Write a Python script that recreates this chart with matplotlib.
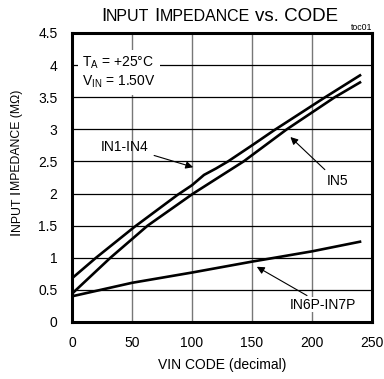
import matplotlib
matplotlib.use("Agg")
from matplotlib import pyplot as plt
from matplotlib.transforms import offset_copy

plt.rcParams['font.family'] = ['Liberation Sans', 'DejaVu Sans']
plt.rcParams['mathtext.fontset'] = 'custom'
plt.rcParams['mathtext.rm'] = 'Liberation Sans'

# VIN code vs input impedance (MOhm)
code_in1 = [0, 20, 52, 88, 100, 110, 120, 130, 150, 168, 211, 240]
z_in1 = [0.68, 1.0, 1.48, 1.98, 2.13, 2.29, 2.39, 2.5, 2.75, 2.98, 3.5, 3.84]

code_in5 = [0, 32, 63, 101, 143, 179, 219, 240]
z_in5 = [0.44, 1.0, 1.5, 2.0, 2.5, 3.0, 3.5, 3.73]

code_in6 = [0, 50, 100, 150, 200, 240]
z_in6 = [0.40, 0.61, 0.77, 0.94, 1.10, 1.25]

x_ticks = [0, 50, 100, 150, 200, 250]
y_ticks = [0, 0.5, 1, 1.5, 2, 2.5, 3, 3.5, 4, 4.5]
y_tick_labels = ['0', '0.5', '1', '1.5', '2', '2.5', '3', '3.5', '4', '4.5']


def small_caps(fig, x, y, pieces, rotation=0):
    # place text pieces one after another, pieces = (text, size, gap_after)
    renderer = fig.canvas.get_renderer()
    pos = 0.0
    for s, size, gap in pieces:
        if rotation == 0:
            tr = offset_copy(fig.transFigure, fig, x=pos, y=0, units='dots')
        else:
            tr = offset_copy(fig.transFigure, fig, x=0, y=pos, units='dots')
        t = fig.text(x, y, s, fontsize=size, rotation=rotation,
                     rotation_mode='anchor', ha='left', va='baseline',
                     transform=tr)
        bb = t.get_window_extent(renderer)
        pos += (bb.width if rotation == 0 else bb.height) + gap * fig.dpi / 72.0


fig = plt.figure(figsize=(3.84, 3.79), dpi=100)
ax = fig.add_axes([0.1875, 0.1504, 0.78125, 0.7626])

ax.plot(code_in1, z_in1, color='black', lw=1.9, zorder=3)
ax.plot(code_in5, z_in5, color='black', lw=1.9, zorder=3)
ax.plot(code_in6, z_in6, color='black', lw=1.9, zorder=3)

ax.set_xlim(0, 250)
ax.set_ylim(0, 4.5)
ax.set_xticks(x_ticks)
ax.set_yticks(y_ticks)
ax.set_yticklabels(y_tick_labels)
ax.tick_params(length=0, labelsize=10)
ax.tick_params(axis='y', pad=10.5)
ax.tick_params(axis='x', pad=10)

ax.xaxis.grid(True, color='#777777', lw=1.0)
ax.yaxis.grid(True, color='black', lw=0.9)
ax.set_axisbelow(True)
for sp in ax.spines.values():
    sp.set_linewidth(2.2)

ax.set_xlabel('VIN CODE (decimal)', fontsize=10, labelpad=6)

ax.text(0.035, 0.925, 'T$_\\mathregular{A}$ = +25°C\nV$_\\mathregular{IN}$ = 1.50V',
        transform=ax.transAxes, fontsize=10, va='top', ha='left',
        linespacing=1.25, zorder=4,
        bbox=dict(facecolor='white', edgecolor='none', pad=3))

arrow = dict(arrowstyle='-|>', lw=0.8, color='black', mutation_scale=11,
             shrinkA=2, shrinkB=0)
ax.annotate('IN1-IN4', xy=(101, 2.41), xytext=(44, 2.73), fontsize=10,
            ha='center', va='center', arrowprops=arrow, zorder=5)
ax.annotate('IN5', xy=(182, 2.88), xytext=(221, 2.19), fontsize=10,
            ha='center', va='center', arrowprops=arrow, zorder=5)
ax.annotate('IN6P-IN7P', xy=(154, 0.86), xytext=(209, 0.27), fontsize=10,
            ha='center', va='center', arrowprops=arrow, zorder=5,
            bbox=dict(facecolor='white', edgecolor='none', pad=0.5))

fig.text(0.969, 0.921, 'toc01', fontsize=6.3, ha='right', va='baseline')

small_caps(fig, 0.263, 0.945, [('I', 13.5, 0), ('NPUT', 11.5, 3.6), ('I', 13.5, 0),
                               ('MPEDANCE', 11.5, 3.8), ('vs. CODE', 13.5, 0)])
small_caps(fig, 0.052, 0.38, [('I', 10.5, 0), ('NPUT', 8.8, 2.6), ('I', 10.5, 0),
                               ('MPEDANCE (MΩ)', 8.8, 0)], rotation=90)

fig.savefig('out.png', dpi=100)
